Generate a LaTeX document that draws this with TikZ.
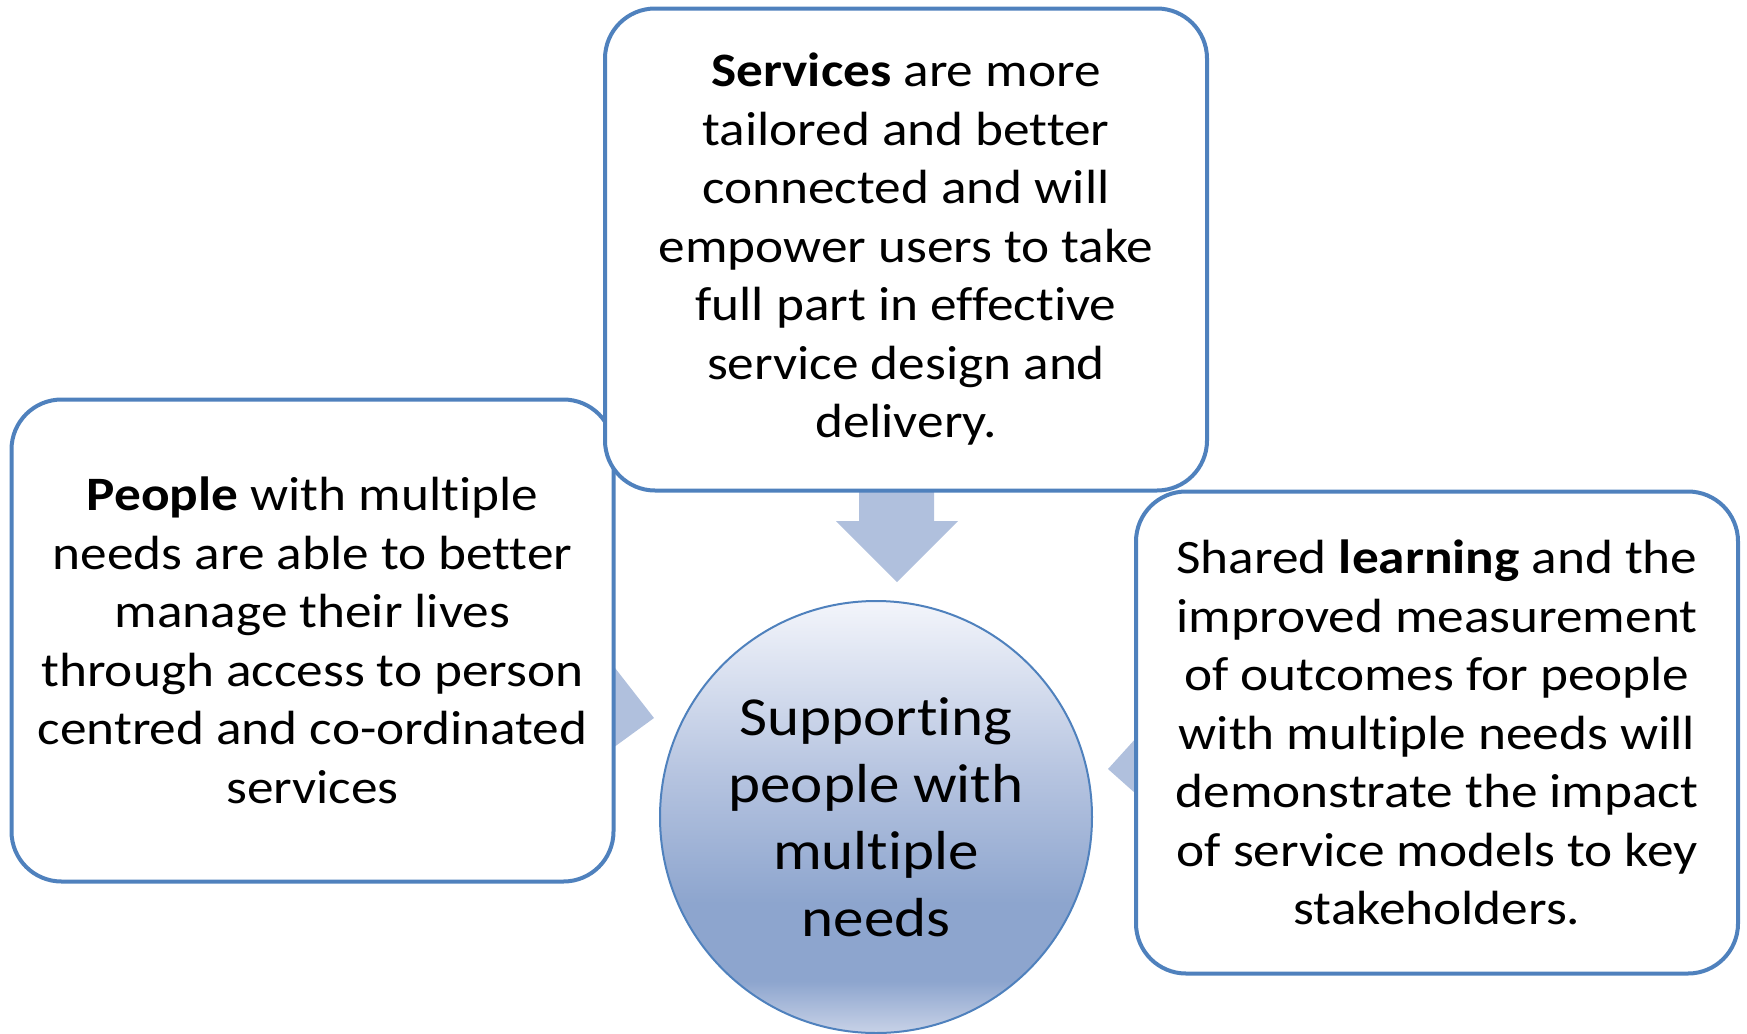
\documentclass[tikz,border=0pt]{standalone}
\usepackage{fontspec}
\setmainfont{Carlito}[FakeStretch=1.11,Ligatures=NoCommon]
\definecolor{bord}{RGB}{79,129,189}
\definecolor{arrowfill}{RGB}{176,192,221}
\definecolor{cbot}{RGB}{200,210,231}
\definecolor{cdark}{RGB}{141,165,206}
\definecolor{cmid}{RGB}{182,196,224}
\definecolor{ctop}{RGB}{243,245,251}
\pgfdeclareverticalshading{circshade}{100bp}{color(0bp)=(cbot); color(25bp)=(cbot); color(31bp)=(cdark); color(40bp)=(cdark); color(55bp)=(cmid); color(75bp)=(ctop); color(100bp)=(ctop)}
\begin{document}
\begin{tikzpicture}[x=0.5pt,y=-0.5pt,
  infobox/.style={draw=bord, line width=2pt, fill=white, rounded corners=25pt,
    minimum width=301pt, minimum height=241pt, align=center, inner sep=0pt,
    font=\fontsize{24pt}{29.25pt}\selectfont},
  hub/.style={circle, draw=bord, line width=1pt, shading=circshade,
    minimum size=216pt, inner sep=0pt, align=center,
    font=\fontsize{27.5pt}{33.5pt}\selectfont},
  arrowshape/.style={fill=arrowfill, draw=none}]
\useasboundingbox (0,0) rectangle (1747,1034);
% arrows (behind boxes)
\fill[arrowshape] (859,480) -- (934,480) -- (934,521) -- (958,521) -- (897,582) -- (836,521) -- (859,521) -- cycle;
\fill[arrowshape] (601,650) -- (654,718) -- (584,769) -- cycle;
\fill[arrowshape] (1166,705) -- (1108,769) -- (1172,826) -- cycle;
% boxes
\node[infobox] (people) at (312.5,640.5) {\textbf{People} with multiple\\needs are able to better\\manage their lives\\through access to person\\centred and co-ordinated\\services};
\node[infobox] (services) at (906,249.5) {\textbf{Services} are more\\tailored and better\\connected and will\\empower users to take\\full part in effective\\service design and\\delivery.};
\node[infobox] (learning) at (1437,732.5) {Shared \textbf{learning} and the\\improved measurement\\of outcomes for people\\with multiple needs will\\demonstrate the impact\\of service models to key\\stakeholders.};
% hub
\node[hub] (hubnode) at (876,817) {Supporting\\people with\\multiple\\needs};
\end{tikzpicture}
\end{document}
